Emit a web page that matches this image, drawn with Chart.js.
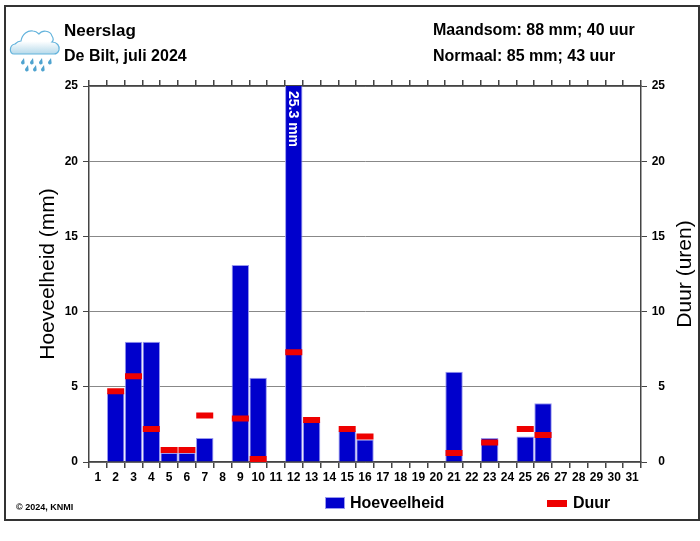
<!DOCTYPE html>
<html>
<head>
<meta charset="utf-8">
<title>Neerslag De Bilt, juli 2024</title>
<script src="https://cdn.jsdelivr.net/npm/chart.js@4"></script>
<style>
  html, body { margin: 0; padding: 0; background: #fff; }
  body { width: 700px; height: 541px; position: relative; overflow: hidden;
         font-family: "Liberation Sans", Arial, sans-serif; font-weight: bold; color: #000; }
  #frame { position: absolute; left: 4px; top: 5px; width: 692px; height: 512px; border: 2px solid #333; }
  #graf { position: absolute; left: 0; top: 0; }
  .txt { position: absolute; white-space: nowrap; line-height: 1; }
  .swatch { position: absolute; }
</style>
</head>
<body>
<div id="frame"></div>
<canvas id="graf" width="700" height="541" style="width:700px;height:541px"></canvas>

<svg style="position:absolute;left:8px;top:27px" width="54" height="46" viewBox="0 0 54 46">
  <defs>
    <linearGradient id="wolk" x1="0" y1="0" x2="0" y2="1">
      <stop offset="0.45" stop-color="#ffffff"/>
      <stop offset="1" stop-color="#b5d9ea"/>
    </linearGradient>
  </defs>
  <path d="M6 27 C1 27 1 18 7 17 C9 15 11 14 13 14 C14 7 20 3 25 4 C28 4 30 6 31 7 C34 3 42 3 44 9 C46 12 45 14 44 15 C49 15 52 19 51 23 C50 26 48 27 46 27 Z"
        fill="url(#wolk)" stroke="#63b3dc" stroke-width="1.2"/>
  <g fill="#4fa3cf">
    <path id="d" d="M16 31 l-2.6 3.6 a1.8 1.8 0 1 0 3.2 .8 Z"/>
    <use href="#d" x="9"/><use href="#d" x="18"/><use href="#d" x="27"/>
    <use href="#d" x="4" y="7"/><use href="#d" x="12" y="7"/><use href="#d" x="20" y="7"/>
  </g>
</svg>

<div class="txt" style="left:64px;top:22px;font-size:17px">Neerslag</div>
<div class="txt" style="left:64px;top:48px;font-size:16px">De Bilt, juli 2024</div>
<div class="txt" style="left:433px;top:22px;font-size:16px">Maandsom: 88 mm; 40 uur</div>
<div class="txt" style="left:433px;top:48px;font-size:16px">Normaal: 85 mm; 43 uur</div>
<div class="txt" style="left:16px;top:503px;font-size:9px">© 2024, KNMI</div>

<div class="swatch" style="left:325px;top:497px;width:18px;height:10px;background:#0000cc;border:1px solid #9999ee"></div>
<div class="txt" style="left:350px;top:495px;font-size:16px">Hoeveelheid</div>
<div class="swatch" style="left:547px;top:500px;width:20px;height:7px;background:#ee0000"></div>
<div class="txt" style="left:573px;top:495px;font-size:16px">Duur</div>

<script>
// dagen van de maand
const dagen = ["1","2","3","4","5","6","7","8","9","10","11","12","13","14","15","16",
               "17","18","19","20","21","22","23","24","25","26","27","28","29","30","31"];
// neerslag per dag in mm (null = droog)
const hoeveelheid = [null,4.6,8.0,8.0,0.6,0.6,1.6,null,13.1,5.6,null,25.3,2.7,null,2.1,1.5,
                     null,null,null,null,6.0,null,1.6,null,1.7,3.9,null,null,null,null,null];
// neerslagduur per dag in uren
const duur = [null,4.7,5.7,2.2,0.8,0.8,3.1,null,2.9,0.2,null,7.3,2.8,null,2.2,1.7,
              null,null,null,null,0.6,null,1.3,null,2.2,1.8,null,null,null,null,null];
const asTicks = [0,5,10,15,20,25];
const asMax = 25;
const topDag = 11; // index van de dag met het label in de balk
const topLabel = "25.3 mm";
const titelRechts = "Duur (uren)";

const tickFont = { family: "'Liberation Sans', Arial, sans-serif", size: 12, weight: 'bold' };
const asKleur = '#444';

// tekst die chart.js zelf niet zo kan neerzetten
const tekstPlugin = {
    id: 'tekstPlugin',
    afterDatasetsDraw(chart) {
        const c = chart.ctx;
        const x = chart.scales.x.getPixelForValue(topDag);
        c.save();
        c.translate(x - 1, chart.chartArea.top + 5);
        c.rotate(Math.PI / 2);
        c.fillStyle = '#fff';
        c.font = "bold 14px 'Liberation Sans', Arial, sans-serif";
        c.textAlign = 'left';
        c.textBaseline = 'middle';
        c.fillText(topLabel, 0, 0);
        c.restore();

        c.save();
        c.translate(685, (chart.chartArea.top + chart.chartArea.bottom) / 2);
        c.rotate(-Math.PI / 2);
        c.fillStyle = '#000';
        c.font = "21px 'Liberation Sans', Arial, sans-serif";
        c.textAlign = 'center';
        c.textBaseline = 'middle';
        c.fillText(titelRechts, 0, 0);
        c.restore();
    }
};

new Chart(document.getElementById('graf'), {
    type: 'bar',
    plugins: [tekstPlugin],
    data: {
        labels: dagen,
        datasets: [{
            type: 'line',
            label: 'Duur',
            data: duur,
            yAxisID: 'y1',
            order: 1,
            showLine: false,
            pointStyle: 'line',
            pointRadius: 8.5,
            pointBorderWidth: 6,
            pointBorderColor: '#ee0000',
            borderColor: '#ee0000',
            backgroundColor: '#ee0000'
        }, {
            label: 'Hoeveelheid',
            data: hoeveelheid,
            yAxisID: 'y',
            order: 2,
            backgroundColor: '#0000cc',
            borderColor: '#9999ee',
            borderWidth: 1,
            borderSkipped: 'bottom',
            barPercentage: 1,
            categoryPercentage: 0.98
        }]
    },
    options: {
        responsive: false,
        animation: false,
        layout: { padding: { top: 80, left: 0, right: 35, bottom: 0 } },
        plugins: { legend: { display: false }, tooltip: { enabled: false } },
        scales: {
            x: {
                type: 'category',
                position: 'bottom',
                offset: true,
                afterFit(s) { s.height = 79; },
                grid: { offset: true, drawOnChartArea: false, tickLength: 6, tickColor: asKleur, lineWidth: 1.5 },
                border: { color: asKleur, width: 1.5 },
                ticks: { autoSkip: false, maxRotation: 0, minRotation: 0, color: '#000', font: tickFont, padding: 2 }
            },
            xBoven: {
                type: 'category',
                labels: dagen,
                position: 'top',
                offset: true,
                afterFit(s) { s.height = 6; },
                grid: { offset: true, drawOnChartArea: false, tickLength: 6, tickColor: asKleur, lineWidth: 1.5 },
                border: { color: asKleur, width: 1.5 },
                ticks: { display: false }
            },
            y: {
                position: 'left',
                min: 0,
                max: asMax,
                afterFit(s) { s.width = 89; },
                afterBuildTicks(s) { s.ticks = asTicks.map(v => ({ value: v })); },
                title: {
                    display: true,
                    text: 'Hoeveelheid (mm)',
                    color: '#000',
                    font: { family: "'Liberation Sans', Arial, sans-serif", size: 21 },
                    padding: { top: 36, bottom: 0 }
                },
                grid: { color: '#888', lineWidth: 1, tickColor: asKleur, tickLength: 6 },
                border: { color: asKleur, width: 1.5 },
                ticks: { color: '#000', font: tickFont, padding: 5 }
            },
            y1: {
                position: 'right',
                min: 0,
                max: asMax,
                afterFit(s) { s.width = 24; },
                afterBuildTicks(s) { s.ticks = asTicks.map(v => ({ value: v })); },
                grid: { drawOnChartArea: false, tickColor: asKleur, tickLength: 6 },
                border: { color: asKleur, width: 1.5 },
                ticks: { color: '#000', font: tickFont, padding: 6, crossAlign: 'far' }
            }
        }
    }
});
</script>
</body>
</html>
